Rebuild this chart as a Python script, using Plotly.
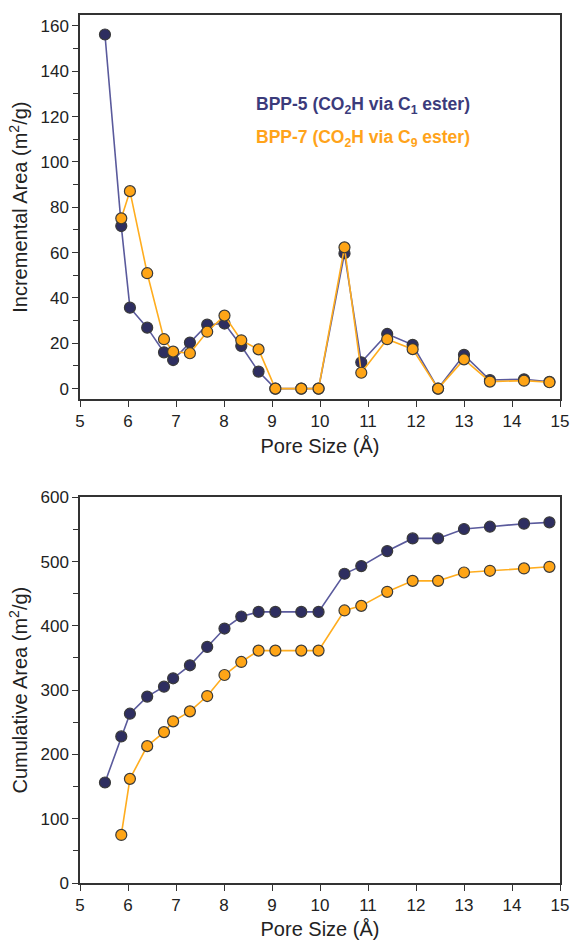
import plotly.graph_objects as go
from plotly.subplots import make_subplots

# Pore sizes (Å)
pore_bpp5 = [5.52, 5.86, 6.04, 6.40, 6.75, 6.94, 7.29, 7.65, 8.01, 8.36, 8.72,
             9.07, 9.61, 9.97, 10.51, 10.86, 11.40, 11.93, 12.46, 13.00, 13.54, 14.25, 14.78]
pore_bpp7 = pore_bpp5[1:]

# Incremental area (m2/g)
inc_bpp5 = [156.2, 71.7, 35.7, 26.9, 16.0, 12.6, 20.3, 28.2, 28.7, 18.8, 7.5,
            0, 0, 0, 59.7, 11.6, 24.1, 19.3, 0, 14.9, 3.8, 4.1, 3.0]
inc_bpp7 = [75.1, 87.1, 50.9, 21.8, 16.3, 15.6, 25.1, 32.2, 21.3, 17.3,
            0, 0, 0, 62.3, 7.0, 21.8, 17.4, 0, 12.9, 3.1, 3.5, 2.8]

# Cumulative area (m2/g)
cum_bpp5 = [156.3, 228.0, 263.3, 289.9, 305.4, 318.4, 338.6, 367.2, 395.8, 414.5, 421.7,
            421.7, 421.7, 421.7, 481.0, 492.9, 516.3, 536.0, 536.0, 550.6, 554.2, 558.9, 561.0]
cum_bpp7 = [74.8, 162.0, 212.9, 234.7, 251.4, 267.0, 290.8, 323.5, 343.8, 361.5,
            361.5, 361.5, 361.5, 423.9, 431.1, 452.9, 470.0, 470.0, 483.0, 485.6, 489.3, 491.8]

label_bpp5 = "BPP-5 (CO<sub>2</sub>H via C<sub>1</sub> ester)"
label_bpp7 = "BPP-7 (CO<sub>2</sub>H via C<sub>9</sub> ester)"

NAVY_FILL = "#2e2e60"
NAVY_LINE = "#5a5a9c"
NAVY_TEXT = "#3b3b7b"
ORANGE_FILL = "#ffa516"
ORANGE_LINE = "#ffad1f"
ORANGE_TEXT = "#ffa31a"
EDGE = "#3a3a3a"
FONT = "Liberation Sans, Arial, sans-serif"

fig = make_subplots(rows=2, cols=1, vertical_spacing=0.11)
top_dom = [0.5573, 1.0]
bot_dom = [0.0, 0.4444]

def add_series(x, y, fill, line, row):
    fig.add_trace(go.Scatter(
        x=x, y=y, mode="lines+markers",
        line=dict(color=line, width=1.6),
        marker=dict(size=11, color=fill, line=dict(color=EDGE, width=1.2)),
        showlegend=False), row=row, col=1)

add_series(pore_bpp5, inc_bpp5, NAVY_FILL, NAVY_LINE, 1)
add_series(pore_bpp7, inc_bpp7, ORANGE_FILL, ORANGE_LINE, 1)
add_series(pore_bpp5, cum_bpp5, NAVY_FILL, NAVY_LINE, 2)
add_series(pore_bpp7, cum_bpp7, ORANGE_FILL, ORANGE_LINE, 2)

axis_common = dict(
    showline=True, linecolor="#333", linewidth=1.5, mirror=True,
    ticks="outside", ticklen=6, tickwidth=1.3, tickcolor="#333",
    showgrid=False, zeroline=False,
    tickfont=dict(family=FONT, size=17, color="#222"),
    title_font=dict(family=FONT, size=20, color="#222"),
)

fig.update_xaxes(**axis_common, range=[5, 15], dtick=1, tick0=5,
                 title_text="Pore Size (Å)", title_standoff=9)
fig.update_yaxes(**axis_common)
fig.update_yaxes(range=[-4.7, 164.8], dtick=20, tick0=0,
                 minor=dict(ticks="outside", ticklen=5, dtick=10, tick0=0,
                            tickcolor="#333", tickwidth=1.2),
                 title_text="Incremental Area (m<sup>2</sup>/g)", title_standoff=7,
                 domain=top_dom, row=1, col=1)
fig.update_yaxes(range=[0, 600], dtick=100, tick0=0,
                 minor=dict(ticks="outside", ticklen=5, dtick=50, tick0=0,
                            tickcolor="#333", tickwidth=1.2),
                 title_text="Cumulative Area (m<sup>2</sup>/g)", title_standoff=7,
                 domain=bot_dom, row=2, col=1)

fig.add_annotation(x=8.63, y=125.0, xref="x", yref="y", text=label_bpp5,
                   showarrow=False, xanchor="left", yanchor="middle",
                   font=dict(family=FONT, size=17.5, color=NAVY_TEXT, weight="bold"))
fig.add_annotation(x=8.63, y=110.4, xref="x", yref="y", text=label_bpp7,
                   showarrow=False, xanchor="left", yanchor="middle",
                   font=dict(family=FONT, size=17.5, color=ORANGE_TEXT, weight="bold"))

fig.update_layout(
    width=571, height=940,
    margin=dict(l=80, r=11, t=15, b=57, autoexpand=False),
    plot_bgcolor="white", paper_bgcolor="white",
    font=dict(family=FONT, color="#222"),
)

fig.write_html("out.html")
